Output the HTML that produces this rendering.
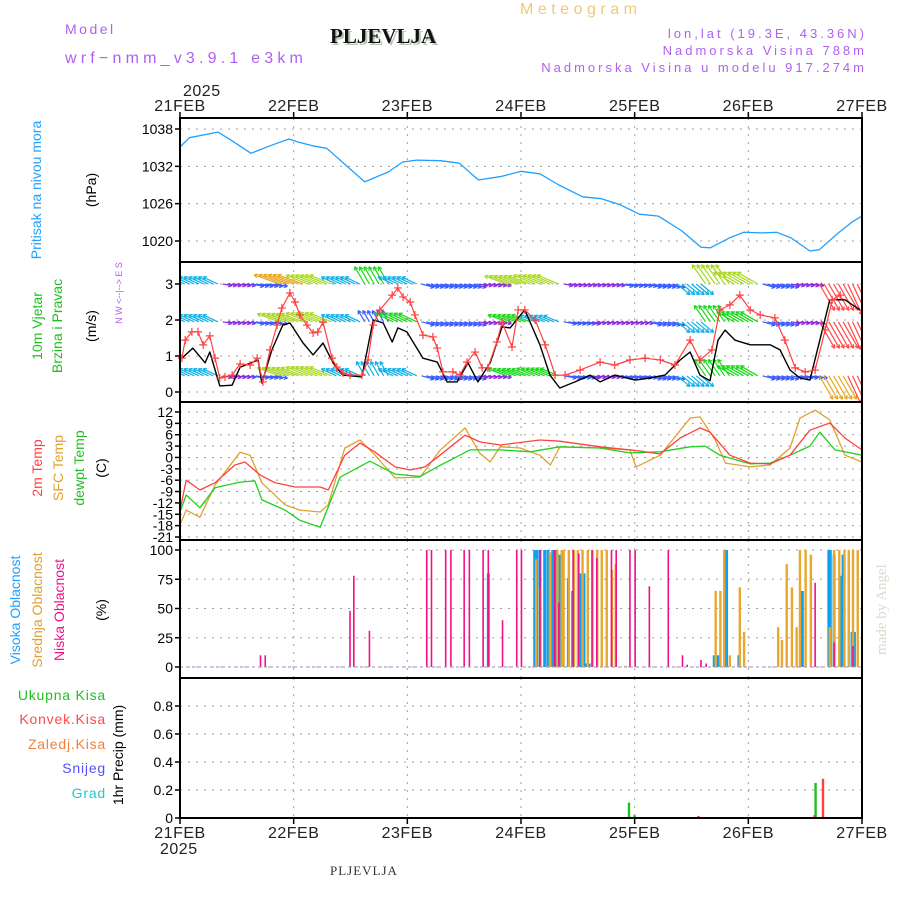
<!DOCTYPE html>
<html><head><meta charset="utf-8">
<style>
html,body{margin:0;padding:0;background:#fff;}
svg{display:block;font-family:"Liberation Sans",sans-serif;}
</style></head>
<body>
<svg id="chart" xmlns="http://www.w3.org/2000/svg" width="900" height="900" viewBox="0 0 900 900">
<defs><clipPath id="windclip"><rect x="180" y="262" width="682" height="140"/></clipPath></defs>
<rect x="0" y="0" width="900" height="900" fill="#fff"/>
<text x="65" y="34" fill="#b060f0" font-size="14" letter-spacing="2.5">Model</text>
<text x="65" y="63" fill="#b060f0" font-size="16" letter-spacing="4.2">wrf−nmm_v3.9.1 e3km</text>
<text x="332" y="45" fill="#b8c8b8" font-family="Liberation Serif,serif" font-weight="bold" font-size="21">PLJEVLJA</text>
<text x="330" y="43" fill="#111" font-family="Liberation Serif,serif" font-weight="bold" font-size="21">PLJEVLJA</text>
<text x="520" y="14" fill="#f0c878" font-size="16" letter-spacing="4.5">Meteogram</text>
<text x="867" y="38" fill="#b060f0" font-size="13" letter-spacing="3" text-anchor="end">lon,lat (19.3E, 43.36N)</text>
<text x="867" y="55" fill="#b060f0" font-size="13" letter-spacing="3" text-anchor="end">Nadmorska Visina 788m</text>
<text x="867" y="72" fill="#b060f0" font-size="13" letter-spacing="3" text-anchor="end">Nadmorska Visina u modelu 917.274m</text>
<text transform="translate(886,655) rotate(-90)" fill="#d8dcd0" font-family="Liberation Serif,serif" font-size="15">made by Angel</text>
<text x="330" y="875" fill="#333" font-family="Liberation Serif,serif" font-size="13" letter-spacing="1">PLJEVLJA</text>
<g id="layer"></g>
</svg>
<script>
// ---------- data ----------
const dayLabels = ["21FEB","22FEB","23FEB","24FEB","25FEB","26FEB","27FEB"];
const pressTicks = [1038,1032,1026,1020];
const pressHours = [0,2,8,11,15,19,23,25,28,31,35,39,44,47,50,55,59,63,68,72,76,80,85,89,93,97,101,106,110,112,116,119,123,126,129,133,135,139,142,144];
const pressVals  = [1035.1,1036.6,1037.5,1036.1,1034.1,1035.3,1036.4,1035.9,1035.3,1034.9,1032.2,1029.5,1031.1,1032.7,1033.0,1032.9,1032.5,1029.8,1030.4,1031.2,1030.8,1029.0,1027.1,1026.8,1025.8,1024.3,1024.0,1021.6,1019.0,1018.9,1020.5,1021.4,1021.3,1021.4,1020.5,1018.4,1018.6,1021.3,1023.1,1024.0];

const windTicks = [0,1,2,3];
const speedHours = [0.4,2.7,5.3,6.3,8.4,11,12.7,16.5,17.3,19.4,21.7,23.2,26,28.1,30.2,32.3,34.4,38.4,40.8,42.9,44.8,46,47.9,51.3,54.3,56.4,58.5,60.8,62.9,65.5,68,69.7,71.4,72.8,76,78.1,80.2,83.4,86.6,88.7,91.8,96.1,99.2,102.4,105.6,107.7,109.8,111.9,113.6,115.1,117.2,120.4,124.6,126.7,128.8,130.9,133,135.1,137.2,140.4,143.6];
const speedVals  = [0.94,1.22,0.81,1.11,0.17,0.19,0.69,0.89,0.25,1.17,1.86,1.92,1.36,1.03,1.36,0.81,0.47,0.42,2.0,1.92,1.39,1.78,1.67,0.94,0.83,0.28,0.28,0.81,0.28,0.81,1.81,1.78,2.06,2.28,1.31,0.47,0.11,0.28,0.47,0.28,0.47,0.33,0.39,0.47,0.89,1.11,0.47,0.31,1.44,1.72,1.44,1.31,1.31,1.17,0.61,0.39,0.33,1.44,2.56,2.56,2.28];
const gustHours = [0.4,1.1,2.5,3.8,4.9,6.3,7.4,8.4,9.5,11,12.7,14.8,16.3,17.5,19,20.5,21.5,23.2,24.3,25.3,26.8,28.1,29.1,30.2,32.1,33.1,34.4,35.9,38.4,39.7,40.8,42.2,44.8,46,47.1,48.6,49.6,51.3,53.4,54.3,55.5,57.6,59.1,60.6,62.3,63.8,65,66.9,68,70.1,71.4,72.8,75,77.1,79.2,81.3,84.5,88.7,91.8,95,98.2,101.4,104.5,107.7,109.8,112.3,114,116.1,118.2,120.4,122.5,125.6,127.7,129.9,132,134.1,136.2,137.7,139.4];
const gustVals  = [0.94,1.44,1.67,1.67,1.31,1.56,0.94,0.39,0.42,0.47,0.78,0.75,0.94,0.28,1.17,1.86,2.33,2.75,2.5,2.14,1.86,1.64,1.67,1.94,0.94,0.69,0.53,0.47,0.47,0.89,1.86,2.28,2.69,2.89,2.64,2.5,2.14,1.58,1.53,1.22,0.56,0.56,0.47,0.83,1.11,0.67,0.67,1.39,1.94,1.25,2.28,2.28,2.0,1.31,0.47,0.47,0.61,0.83,0.75,0.89,0.94,0.89,0.75,1.44,0.89,1.17,2.28,2.42,2.69,2.28,2.14,2.06,1.44,0.67,0.56,0.61,1.72,2.56,2.69];
// wind arrows: 6-hourly speed (m/s) for three rows, and arrow directions (deg, 0=east, 90=north)
const rowLevels = [3.0, 1.95, 0.45];
const windTopSpeed = [3,3,1,2,6,5,3,4,3,2,2,1,5,5,1,1,2,2,3,5,5,2,1,7,8];
const windMidSpeed = [3,3,1,2,5,5,3,2,4,2,2,1,4,3,2,1,1,2,3,4,4,2,1,7,7];
const windLowSpeed = [3,3,1,2,5,5,3,3,3,2,2,1,4,4,2,1,2,2,3,4,4,2,2,6,7];
const windDir = [155,155,-10,-10,160,158,155,120,155,-15,-15,-10,160,158,-10,-10,-10,-15,-40,125,150,-15,-10,-60,-65];

const tempTicks = [12,9,6,3,0,-3,-6,-9,-12,-15,-18,-21];
const t2Hours = [0,1.3,4.2,7.4,11.6,13.7,16.9,20.1,24.3,29.6,31.3,34.8,38,41.2,45.4,48.6,51.7,54.9,60.2,63.3,67.6,76,80.2,88.7,97.1,101.4,105.6,109.8,111.9,116.1,120.4,124.6,128.8,133,137.2,140.4,144];
const t2Vals  = [-13.9,-6.0,-8.6,-6.7,-2.0,-1.2,-4.6,-6.7,-7.8,-7.8,-8.6,0.6,3.8,1.4,-2.5,-3.3,-2.5,0.6,5.9,4.1,3.3,4.6,4.3,2.8,1.7,0.9,5.1,7.8,6.7,0.6,-1.5,-1.7,0.6,7.2,9.1,5.1,2.0];
const sfcHours = [0,1.3,4.2,7.4,12.7,14.8,17.3,22.2,25.3,29.6,31.3,34.8,38,41.2,45.4,50.7,54.9,60.2,63.3,65.5,67.6,71.8,76,78.2,80.2,88.7,95,96.3,101.4,107.7,109.8,113,115.2,120.4,124.6,128.8,130.9,134.1,137.2,140.4,144];
const sfcVals  = [-17.8,-13.9,-15.8,-7.3,1.4,0.6,-6.7,-12.5,-13.9,-14.4,-12.5,2.5,4.6,0.6,-5.4,-5.2,1.9,7.8,1.1,-1.2,2.8,2.5,0.6,-2.0,2.8,2.5,2.0,-2.5,0.6,10.4,10.7,4.6,-1.5,-2.5,-2.0,2.5,10.4,12.5,9.9,0.6,-1.2];
const dewHours = [0,1.3,4.2,7.4,12.7,15.8,17.3,22.2,25.3,29.6,33.8,40.1,45.4,50.7,54.9,61.2,67.6,74,80.2,88.7,95,101.4,107.7,110.9,114,120.4,124.6,128.8,133,135.1,138.3,144];
const dewVals  = [-14.4,-9.9,-13.3,-8.0,-6.5,-6.2,-11.2,-13.9,-16.6,-18.4,-5.2,-1.0,-4.4,-5.0,-2.1,2.0,2.0,1.5,2.8,2.5,1.2,1.5,2.8,3.0,0.6,-1.7,-1.5,0.6,3.0,6.7,2.0,0.6];

const cloudTicks = [100,75,50,25,0];
const lowHours = [17,18,35.9,36.7,40,52.1,53.1,56.1,57.2,60.0,61.1,64.0,65.1,68.1,71.1,72.1,76.0,79.1,80.0,83.0,84.2,87.0,88.0,91.1,92.1,95.0,96.1,99.1,103.1,106.1,107.1,110.0,111.1,134.1,138.1,142.1];
const lowVals  = [10,10,48,78,31,100,100,100,100,100,100,100,100,40,100,100,100,100,55,100,97,100,93,100,100,100,100,69,100,10,2,6,3,72,21,18];
const midHours = [75.2,76.0,78.1,79.7,80.6,81,82.1,83.2,84.0,85,86.1,87.1,88.1,89.05,90.1,91.2,92,94.1,113.1,114.1,114.9,116.1,118.2,119.1,126.3,127.1,128.1,129.2,130.2,130.9,132.1,133.2,137.2,138.1,139.2,140.3,141.2,142.1,143.1];
const midVals  = [92,68,98,100,100,100,100,100,100,100,100,100,100,100,100,83,88,1,65,65,100,10,68,30,34,23,88,68,34,100,100,96,34,100,100,100,100,100,100];
const highHours = [65.1,74.9,75.3,76,77,77.7,78.7,79.5,80.2,82,82.9,84.7,85.3,85.9,86.4,112.8,113.4,114,115.4,118,131.4,137,137.3,138.1,139.4,140,141.9,142.4];
const highVals  = [80,100,100,100,100,100,100,100,96,76,65,80,80,3,3,10,10,10,100,10,65,100,100,96,78,96,30,30];

const precipTicks = [0.8,0.6,0.4,0.2,0];
const totalHours = [60,67,94.8,96,134.2];
const totalVals  = [0.005,0.005,0.11,0.02,0.25];
const convHours = [109,133.5,135.3];
const convVals  = [0.015,0.02,0.28];

// ---------- axes ----------
const L=180,R=862;
const X = h => L + h*(R-L)/144;
const Yp = v => 129 + (1038-v)*112/18;
const Yw = v => 392 - v*36;
const Yt = v => 412 + (12-v)*125/33;
const Yc = v => 667 - v*1.17;
const Yr = v => 818 - v*140;
const NS="http://www.w3.org/2000/svg";
const layer=document.getElementById('layer');
function mk(tag,attrs,parent){const e=document.createElementNS(NS,tag);for(const k in attrs)e.setAttribute(k,attrs[k]);(parent||layer).appendChild(e);return e;}
function txt(s,x,y,attrs){const e=mk('text',Object.assign({x:x,y:y},attrs||{}));e.textContent=s;return e;}
function line(hs,vs,Y,color,w,name){
  let d='';hs.forEach((h,i)=>{d+=(i?'L':'M')+X(h).toFixed(1)+','+Y(vs[i]).toFixed(1);});
  const p=mk('path',{d:d,fill:'none',stroke:color,'stroke-width':w,'stroke-linejoin':'round'});
  
  
  return p;
}
const panels=[[118,262],[262,402],[402,540],[540,678],[678,818]];
const gridStyle={stroke:'#a0a0a0','stroke-width':1,'stroke-dasharray':'2,6'};
for(let d=1;d<6;d++){panels.forEach(p=>{const g=mk('line',Object.assign({x1:X(d*24),x2:X(d*24),y1:p[0],y2:p[1]},gridStyle));

});}
function hgrid(ticks,Y,fmt,name){
  ticks.forEach(t=>{const y=Y(t);
    const g=mk('line',Object.assign({x1:L,x2:R,y1:y,y2:y},gridStyle));
    
    
    mk('line',{x1:L-5,x2:L,y1:y,y2:y,stroke:'#000','stroke-width':1.5});
    const lab=txt(fmt(t),L-7,y+5,{'text-anchor':'end','font-size':14,fill:'#000'});
    
    
  });
}
hgrid(pressTicks,Yp,String,'pressure');
hgrid(windTicks,Yw,String,'wind');
hgrid(tempTicks,Yt,String,'temperature');
hgrid(cloudTicks,Yc,String,'cloud');
hgrid(precipTicks,Yr,t=>t===0?'0':t.toFixed(1),'precip');

// ---------- pressure ----------
line(pressHours,pressVals,Yp,'#20a0ff',1.3,'pressure-line');

// ---------- wind arrows ----------
const spdColor=s=>s<1.5?'#8a2be2':s<2.5?'#3a5cff':s<3.5?'#10b0e8':s<4.5?'#18d818':s<5.5?'#a8d820':s<6.5?'#e8a820':'#ff4848';
const wg=mk('g',{'clip-path':'url(#windclip)'});


[windTopSpeed,windMidSpeed,windLowSpeed].forEach((arr,r)=>{
  for(let h=0;h<=144;h+=1){
    const i=Math.min(24,Math.round(h/6));const s=arr[i];const a=windDir[i]*Math.PI/180;
    const len=6+s*3.5;const x0=X(h),y0=Yw(rowLevels[r]);
    const x1=x0+Math.cos(a)*len,y1=y0-Math.sin(a)*len;
    const c=spdColor(s);
    const g=mk('g',{},wg);
    
    
    mk('line',{x1:x0,y1:y0,x2:x1,y2:y1,stroke:c,'stroke-width':1.2},g);
    const b1=a+Math.PI-0.5,b2=a+Math.PI+0.5;
    mk('line',{x1:x1,y1:y1,x2:x1+Math.cos(b1)*4,y2:y1-Math.sin(b1)*4,stroke:c,'stroke-width':1.2},g);
    mk('line',{x1:x1,y1:y1,x2:x1+Math.cos(b2)*4,y2:y1-Math.sin(b2)*4,stroke:c,'stroke-width':1.2},g);
  }
});
line(speedHours,speedVals,Yw,'#000',1.4,'wind-speed-line');
line(gustHours,gustVals,Yw,'#ff4040',1.2,'wind-gust-line');
gustHours.forEach((h,i)=>{const x=X(h),y=Yw(gustVals[i]);
  const p=mk('path',{d:`M${x-4},${y}H${x+4}M${x},${y-4}V${y+4}`,stroke:'#ff4040','stroke-width':1.2});
  
  });

// ---------- temperature ----------
line(sfcHours,sfcVals,Yt,'#e0a030',1.3,'sfc-temp-line');
line(dewHours,dewVals,Yt,'#20d020',1.3,'dewpoint-line');
line(t2Hours,t2Vals,Yt,'#ff4040',1.3,'temp-2m-line');

// ---------- cloud bars ----------
function bars(hs,vs,Y,color,w,name){hs.forEach((h,i)=>{const y=Y(vs[i]),y0=Y(0);
  const b=mk('rect',{x:X(h)-w/2,y:Math.min(y,y0),width:w,height:Math.max(0.8,Math.abs(y0-y)),fill:color});
  
  });}
bars(highHours,highVals,Yc,'#10a0f0',3,'high-cloud-bar');
bars(midHours,midVals,Yc,'#e8a830',2.4,'mid-cloud-bar');
bars(lowHours,lowVals,Yc,'#f0108a',1.6,'low-cloud-bar');
mk('line',{x1:L,x2:R,y1:Yc(0),y2:Yc(0),stroke:'#b0a0d0','stroke-width':1.2,'stroke-dasharray':'3,3'});

// ---------- precip bars ----------
bars(totalHours,totalVals,Yr,'#20c020',2.4,'total-precip-bar');
convHours.forEach((h,i)=>{const y=Yr(convVals[i]);
  const b=mk('rect',{x:X(h)+1,y:y,width:2.4,height:Yr(0)-y,fill:'#ff4040'});
  
  });

// ---------- frames & date labels ----------
panels.forEach(p=>{const f=mk('rect',{x:L,y:p[0],width:R-L,height:p[1]-p[0],fill:'none',stroke:'#000','stroke-width':2});
  
  });
dayLabels.forEach((s,d)=>{const x=X(d*24);
  mk('line',{x1:x,x2:x,y1:112,y2:118,stroke:'#000','stroke-width':1.5});
  mk('line',{x1:x,x2:x,y1:818,y2:824,stroke:'#000','stroke-width':1.5});
  const t1=txt(s,x,111,{'text-anchor':'middle','font-size':16,fill:'#222','letter-spacing':0.5});
  
  
  const t2=txt(s,x,838,{'text-anchor':'middle','font-size':16,fill:'#222','letter-spacing':0.5});
  
  
});
const y1=txt('2025',183,96,{'font-size':16,fill:'#222','letter-spacing':0.5});


const y2=txt('2025',160,854,{'font-size':16,fill:'#222','letter-spacing':0.5});



// ---------- axis titles ----------
function vtxt(s,x,y,color,name,size){const e=txt(s,0,0,{transform:`translate(${x},${y}) rotate(-90)`,'text-anchor':'middle','font-size':size||14,fill:color});
  
  }
vtxt('Pritisak na nivou mora',41,190,'#20a0ff','pressure-title');
vtxt('(hPa)',96,190,'#000','pressure-unit');
vtxt('10m Vjetar',42,326,'#20c020','wind-title-1');
vtxt('Brzina i Pravac',62,326,'#20c020','wind-title-2');
vtxt('(m/s)',96,326,'#000','wind-unit');
vtxt('N  W <--|--> E  S',122,293,'#b060f0','wind-direction-key',9);
vtxt('2m Temp',42,468,'#ff4040','temp-2m-title');
vtxt('SFC Temp',63,468,'#e0a030','sfc-temp-title');
vtxt('dewpt Temp',84,468,'#20c020','dewpoint-title');
vtxt('(C)',106,468,'#000','temp-unit');
vtxt('Visoka Oblacnost',20,610,'#20a0ff','high-cloud-title');
vtxt('Srednja Oblacnost',42,610,'#e0a030','mid-cloud-title');
vtxt('Niska Oblacnost',64,610,'#f0108a','low-cloud-title');
vtxt('(%)',106,610,'#000','cloud-unit');
vtxt('1hr Precip (mm)',123,755,'#000','precip-title');
[['Ukupna  Kisa','#20c020',700],['Konvek.Kisa','#ff4848',724],['Zaledj.Kisa','#f08040',749],['Snijeg','#5050ff',773],['Grad','#20c8c8',798]].forEach(a=>{
  const t=txt(a[0],106,a[2],{'text-anchor':'end','font-size':14,fill:a[1],'letter-spacing':0.8});
  
  
});
</script>
</body></html>
